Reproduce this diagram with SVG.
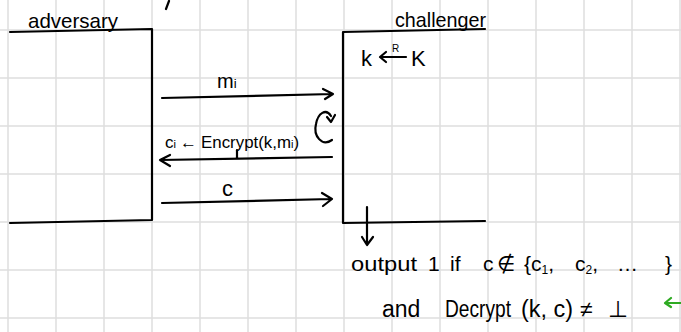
<svg xmlns="http://www.w3.org/2000/svg" width="681" height="332" viewBox="0 0 681 332">
<defs>
<style>
.grid{stroke:#dedede;stroke-width:1.5}
.ink{fill:none;stroke:#000;stroke-width:2.2;stroke-linecap:round;stroke-linejoin:round}
.t{font-family:"Liberation Sans","DejaVu Sans",sans-serif;fill:#000}
.green{fill:none;stroke:#2eaa22;stroke-width:2.2;stroke-linecap:round;stroke-linejoin:round}
</style>
</defs>
<rect width="681" height="332" fill="#fff"/>
<g id="grid">
<path class="grid" d="M8 0V332M56 0V332M104 0V332M152 0V332M200 0V332M248 0V332M296 0V332M344 0V332M392 0V332M440 0V332M488 0V332M536 0V332M584 0V332M632 0V332M680 0V332"/>
<path class="grid" d="M0 30H681M0 78H681M0 126H681M0 174H681M0 222H681M0 270H681M0 318H681"/>
</g>
<path class="ink" d="M166 9L169 1"/>
<g id="adversary">
<path class="ink" d="M10 32L152 29L152 220L10 223"/>
<text class="t" x="28" y="28" font-size="21" textLength="90" lengthAdjust="spacingAndGlyphs">adversary</text>
</g>
<g id="challenger">
<path class="ink" d="M485 29L343 32L343 223L485 221"/>
<text class="t" x="395" y="27" font-size="21" textLength="91" lengthAdjust="spacingAndGlyphs">challenger</text>
<text class="t" x="361" y="66" font-size="22">k</text>
<path class="ink" d="M381 57H406M386 52L380 57L386 62"/>
<text class="t" x="392" y="52" font-size="10">R</text>
<text class="t" x="411" y="66" font-size="22">K</text>
<path class="ink" d="M332 140C322 147 313 136 316 124C318 113 326 108 331 116M327 117L331 122L335 115"/>
</g>
<g id="connectors">
<path class="ink" d="M162 98L333 94M323 89L333 94L325 99"/>
<text class="t" x="217" y="88" font-size="20">m<tspan font-size="13">i</tspan></text>
<path class="ink" d="M332 157L160 160M170 155L160 160L170 166M237 150V158"/>
<text class="t" y="148" font-size="17"><tspan x="165">c</tspan><tspan font-size="11">i</tspan><tspan x="180">←</tspan><tspan x="201" textLength="90" lengthAdjust="spacingAndGlyphs">Encrypt(k,m</tspan><tspan font-size="11">i</tspan><tspan>)</tspan></text>
<path class="ink" d="M162 203L331 199M322 193L332 199L323 206"/>
<text class="t" x="222" y="196" font-size="22">c</text>
<path class="ink" d="M367 207V245M362 237L367 245L373 237"/>
</g>
<g id="output">
<text class="t" font-size="21" y="271"><tspan x="351" textLength="66" lengthAdjust="spacingAndGlyphs">output</tspan><tspan x="428">1</tspan><tspan x="450">if</tspan><tspan x="483">c</tspan><tspan x="497">∉</tspan><tspan x="524">{c</tspan><tspan font-size="12" dy="3">1</tspan><tspan dy="-3">,</tspan><tspan x="575">c</tspan><tspan font-size="12" dy="3">2</tspan><tspan dy="-3">,</tspan><tspan x="617">…</tspan><tspan x="665">}</tspan></text>
<text class="t" font-size="23" y="317"><tspan x="382">and</tspan><tspan x="445" textLength="66" lengthAdjust="spacingAndGlyphs">Decrypt</tspan><tspan x="521" textLength="52" lengthAdjust="spacingAndGlyphs">(k, c)</tspan><tspan x="580">≠</tspan><tspan x="608">⊥</tspan></text>
<path class="green" d="M681 303H665M671 298L665 303L671 307"/>
</g>
</svg>
